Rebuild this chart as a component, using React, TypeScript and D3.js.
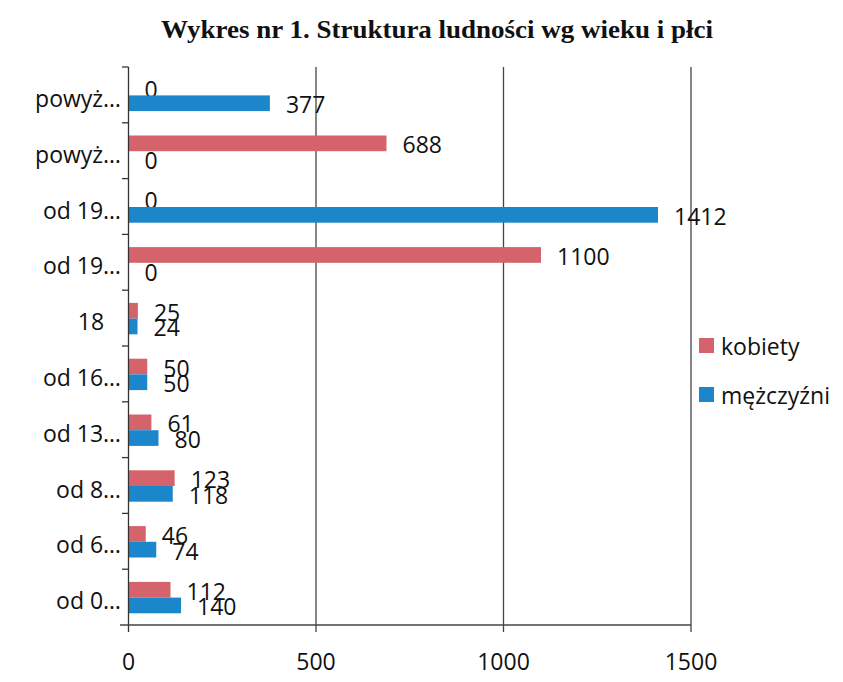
import React from "react";
import * as d3 from "d3";

const categories = ["powyż…", "powyż… ", "od 19…", "od 19… ", "18", "od 16…", "od 13…", "od 8…", "od 6…", "od 0…"];
const kobiety = [0, 688, 0, 1100, 25, 50, 61, 123, 46, 112];
const mezczyzni = [377, 0, 1412, 0, 24, 50, 80, 118, 74, 140];
const xTicks = [0, 500, 1000, 1500];
const seriesNames = ["kobiety", "mężczyźni"];
const colors = ["#d4636c", "#1c86cb"];
const title = "Wykres nr 1. Struktura ludności wg wieku i płci";

export default function App() {
  const W = 843, H = 682;
  const x = d3.scaleLinear().domain([0, 1500]).range([128.5, 691]);
  const y = d3.scaleBand<string>().domain(categories).range([67, 625]).padding(0);
  const barH = 15.7;
  const font = "'Open Sans', 'Noto Sans', sans-serif";
  const fs = 23;
  const series = [kobiety, mezczyzni];

  return (
    <svg width={W} height={H} style={{ position: "absolute", left: 0, top: 0, background: "#fff" }}>
      <rect x={0} y={0} width={W} height={H} fill="#fff" />
      <text x={437} y={38} textAnchor="middle" fontFamily="'Liberation Serif', 'Times New Roman', serif" fontWeight="bold" fontSize={26} fill="#111" textLength={552} lengthAdjust="spacingAndGlyphs">{title}</text>
      {/* gridlines */}
      {xTicks.slice(1).map((t) => (
        <line key={t} x1={x(t)} x2={x(t)} y1={67} y2={632} stroke="#444" strokeWidth={1.3} />
      ))}
      {/* bars */}
      {categories.map((c, i) => {
        const cy = (y(c) as number) + y.bandwidth() / 2 + 0.5;
        return (
          <g key={c}>
            {series.map((s, k) => {
              const by = cy - barH + k * barH;
              return (
                <g key={k}>
                  <rect x={x(0)} y={by} width={x(s[i]) - x(0)} height={barH} fill={colors[k]} />
                  <text x={x(s[i]) + 16} y={by + barH / 2 + 1} dominantBaseline="central" fontFamily={font} fontSize={fs} fill="#111">{s[i]}</text>
                </g>
              );
            })}
          </g>
        );
      })}
      {/* axes */}
      <line x1={x(0)} x2={x(0)} y1={67} y2={632} stroke="#333" strokeWidth={1.3} />
      <line x1={120} x2={x(1500)} y1={625} y2={625} stroke="#444" strokeWidth={1.3} />
      {categories.map((c) => (
        <line key={"t" + c} x1={122} x2={x(0)} y1={y(c) as number} y2={y(c) as number} stroke="#333" strokeWidth={1.3} />
      ))}
      {categories.map((c) => {
        const truncated = c.trim().endsWith("…");
        return (
          <text key={"l" + c} x={truncated ? 121 : 91} y={(y(c) as number) + y.bandwidth() / 2 + 3} textAnchor={truncated ? "end" : "middle"} dominantBaseline="central" fontFamily={font} fontSize={fs} fill="#111">{c.trim()}</text>
        );
      })}
      {xTicks.map((t) => (
        <text key={"x" + t} x={x(t)} y={661} textAnchor="middle" dominantBaseline="central" fontFamily={font} fontSize={fs} fill="#111">{t}</text>
      ))}
      {/* legend */}
      {seriesNames.map((n, k) => (
        <g key={n}>
          <rect x={699} y={338 + k * 49} width={15} height={15} fill={colors[k]} />
          <text x={721} y={346 + k * 49} dominantBaseline="central" fontFamily={font} fontSize={fs} fill="#111">{n}</text>
        </g>
      ))}
    </svg>
  );
}
